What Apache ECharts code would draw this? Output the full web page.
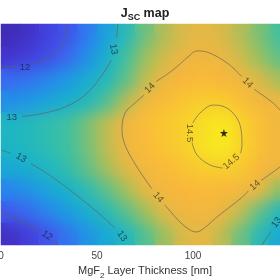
<!DOCTYPE html>
<html><head><meta charset="utf-8">
<script src="https://cdn.jsdelivr.net/npm/echarts@6/dist/echarts.min.js"></script>
<style>
html,body{margin:0;padding:0;overflow:hidden;background:#fff;width:280px;height:280px}
#base,#over{position:absolute;left:0;top:0;width:290px;height:280px}
#clip{position:absolute;left:1px;top:24px;width:288px;height:221px;overflow:hidden}
#blur{width:288px;height:221px;filter:blur(8px)}
</style></head>
<body>
<div id="base"></div>
<div id="clip"><div id="blur"></div></div>
<div id="over"></div>
<script>
// ---- data (MgF2 thickness in nm on x, second parameter in arbitrary units on y) ----
const xCenters = [5,15,25,35,45,55,65,75,85,95,105,115,125,135,145];
const yCenters = [5,15,25,35,45,55,65,75,85,95];
const jsc_y5  = [11.70,11.85,12.03,12.30,12.60,12.85,13.06,13.35,13.62,13.85,13.92,13.75,13.45,13.12,12.85];
const jsc_y15 = [12.05,12.22,12.45,12.70,12.92,13.12,13.38,13.62,13.88,14.05,14.08,14.00,13.75,13.40,13.08];
const jsc_y25 = [12.45,12.60,12.80,12.98,13.18,13.40,13.65,13.90,14.08,14.20,14.25,14.22,14.10,13.95,13.55];
const jsc_y35 = [12.85,12.95,13.07,13.22,13.42,13.65,13.88,14.08,14.25,14.35,14.45,14.48,14.40,14.20,14.00];
const jsc_y45 = [13.03,13.08,13.18,13.30,13.48,13.75,14.00,14.22,14.35,14.45,14.62,14.72,14.52,14.30,14.08];
const jsc_y55 = [13.05,13.10,13.20,13.30,13.50,13.75,14.03,14.25,14.38,14.47,14.60,14.70,14.50,14.30,14.05];
const jsc_y65 = [12.55,12.65,12.80,12.95,13.10,13.35,13.70,14.05,14.25,14.38,14.45,14.45,14.30,14.12,13.97];
const jsc_y75 = [12.20,12.30,12.45,12.65,12.90,13.10,13.40,13.75,14.02,14.18,14.25,14.20,14.03,13.85,13.65];
const jsc_y85 = [11.75,11.85,11.97,12.20,12.55,12.95,13.30,13.60,13.82,13.97,14.05,13.97,13.80,13.60,13.40];
const jsc_y95 = [11.62,11.72,11.88,12.02,12.35,12.75,13.12,13.45,13.70,13.85,13.90,13.85,13.70,13.50,13.30];
const jscRows = [jsc_y5,jsc_y15,jsc_y25,jsc_y35,jsc_y45,jsc_y55,jsc_y65,jsc_y75,jsc_y85,jsc_y95];

// contour lines (null = break where a label sits)
const c12Upper = [[34.4,100],[33.9,95],[31.3,89.6],[26.6,85.5],[21,83.2],[17.5,82.2],null,[7.5,80.8],[0,80.5]];
const c13Upper = [[60.9,100],[60.2,94],null,[57.5,83.5],[51.6,75.6],[43.8,67.9],[33.3,62.4],[20.3,59.3],[11,58.2],null,[0,57.5]];
const c13Lower = [[0,43.0],[5,41.5],null,[15.5,36.8],[22.9,33.0],[35.9,24.9],[48.9,15.8],[59.4,7.7],null,[66.1,0]];
const c12Lower = [[0,14.9],[7.3,12.2],[16.7,8.1],[20.5,6.2],null,[27.5,2.0],[29.7,0]];
const c13Right = [[135.9,0],[140.5,6],null,[146.5,14.5],[150,18.1]];
const c14 = [[150,38.5],[145.3,35.3],[135.5,29.2],null,[129.0,24.5],[124.5,20.8],[112.5,12.7],[105.2,7.2],[101.6,5.9],[98.4,6.8],[93.2,10.4],[85.3,18.2],null,[78.5,25.5],[70.8,35.3],[64.6,45.2],[63.0,52.0],[64.6,59.7],[69.8,64.3],[74.5,67.8],null,[80.8,74.0],[89.6,79.2],[97.4,85.1],[102.1,87.8],[107.3,87.3],[117.7,82.4],[125.3,76.3],null,[131.8,70.5],[141.7,64.3],[145.3,61.1],[150,57.0]];
const c145 = [[99.9,55.2],[103.6,59.7],[110.4,63.3],[115.1,62.9],[120.3,60.2],[124.5,54.3],[125.5,45.2],[124.8,41.5],null,[115.5,34.8],[108.9,36.2],[102.1,40.7],[99.5,46.3]];

const labelText  = ['12','13','13','13','12','13','13','14','14','14','14','14.5','14.5'];
const labelX     = [12.5, 58.6, 5.6, 10.5, 24.0, 63.0, 143.6, 77.6, 128.4, 81.9, 132.3, 98.5, 120.0];
const labelY     = [80.2, 88.6, 57.9, 39.4, 4.2, 4.0, 10.2, 71.0, 73.4, 21.6, 27.0, 50.7, 37.6];
const labelAngle = [0, -80, 0, -30, -35, -55, 55, 45, -45, -50, 40, -90, 40];

const bestX = 116.1, bestY = 50.7;

// ---- build ----
const heatData = [];
jscRows.forEach((row, j) => row.forEach((v, i) => heatData.push([i, j, v])));
// colour stops every 0.3 from 11.5 to 14.8 (parula-like)
const colorStops = ['#3d26a0','#4438d8','#4060f0','#2c80f0','#1b9ee0','#18b4c8','#40c0a0','#98c060','#e6b844','#fab63c','#f7d22a','#f8f418'];
const vmap = {type:'continuous', show:false, min:11.5, max:14.8, dimension:2, inRange:{color:colorStops}};
const FONT = 'Liberation Sans, Arial, sans-serif';
const toLine = arr => arr.map(p => p ? p : ['-','-']);

function heatOption(gridPos, withTitle){
  const o = {
    animation:false,
    grid: gridPos,
    xAxis:{type:'category', data:xCenters, show:false},
    yAxis:{type:'category', data:yCenters, show:false},
    visualMap: vmap,
    series:[{type:'heatmap', data:heatData, itemStyle:{borderWidth:0}, silent:true}]
  };
  if (withTitle) {
    o.title = {left:'center', top:2, text:'{a|J}{s|SC}{a| map}',
      textStyle:{rich:{
        a:{fontFamily:FONT, fontSize:12.5, fontWeight:'bold', color:'#222', verticalAlign:'top', lineHeight:16},
        s:{fontFamily:FONT, fontSize:9, fontWeight:'bold', color:'#222', verticalAlign:'top', lineHeight:16, padding:[6,0,0,0]}
      }}};
  }
  return o;
}

const base = echarts.init(document.getElementById('base'));
base.setOption(heatOption({left:1, top:24, width:288, height:221, outerBoundsMode:'none'}, true));
const blur = echarts.init(document.getElementById('blur'));
blur.setOption(heatOption({left:0, top:0, right:0, bottom:0, outerBoundsMode:'none'}, false));

const lineStyle = {color:'rgba(100,95,90,0.65)', width:1};
const contourSeries = [c12Upper,c13Upper,c13Lower,c12Lower,c13Right,c14,c145].map(c => ({
  type:'line', data:toLine(c), showSymbol:false, symbol:'none', smooth:0.35, connectNulls:false,
  lineStyle:lineStyle, silent:true, clip:true
}));
const labelData = labelText.map((t, k) => ({
  value:[labelX[k], labelY[k]],
  label:{show:true, formatter:t, rotate:labelAngle[k], position:'inside'}
}));

const over = echarts.init(document.getElementById('over'), null, {renderer:'canvas'});
over.setOption({
  animation:false,
  backgroundColor:'transparent',
  grid:{left:1, top:24, width:288, height:221, outerBoundsMode:'none'},
  xAxis:{type:'value', min:0, max:150, interval:50,
    axisLine:{show:false}, axisTick:{show:false}, splitLine:{show:false},
    axisLabel:{fontFamily:FONT, fontSize:10, color:'#444', margin:6, showMaxLabel:false, alignMinLabel:'center'},
    name:'{a|MgF}{s|2}{a| Layer Thickness [nm]}', nameLocation:'middle', nameGap:16,
    nameTextStyle:{rich:{
      a:{fontFamily:FONT, fontSize:11, color:'#333', verticalAlign:'top', lineHeight:14},
      s:{fontFamily:FONT, fontSize:8, color:'#333', verticalAlign:'top', lineHeight:14, padding:[6,0,0,0]}
    }}},
  yAxis:{type:'value', min:0, max:100, show:false},
  series: contourSeries.concat([
    {type:'scatter', data:labelData, symbolSize:0, silent:true,
      label:{show:true, fontFamily:FONT, fontSize:9.5, color:'rgba(25,25,40,0.85)'}},
    {type:'scatter', data:[[bestX,bestY]], silent:true, symbolSize:8,
      symbol:'path://M0,-10L2.35,-3.24L9.51,-3.09L3.8,1.24L5.88,8.09L0,4L-5.88,8.09L-3.8,1.24L-9.51,-3.09L-2.35,-3.24Z',
      itemStyle:{color:'#000'}}
  ])
});
</script>
</body></html>
